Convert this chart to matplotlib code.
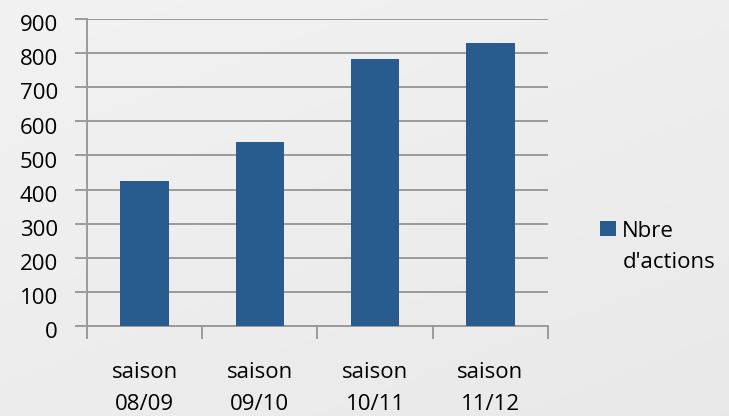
import numpy as np
import matplotlib
matplotlib.use("Agg")
import matplotlib.pyplot as plt
import matplotlib.transforms as mtransforms
from matplotlib.patches import Rectangle
from matplotlib.legend_handler import HandlerPatch

seasons = ["saison\n08/09", "saison\n09/10", "saison\n10/11", "saison\n11/12"]
actions = [426, 540, 784, 829]
series_name = "Nbre\nd'actions"

BAR_COLOR = "#285c8f"
GRID_COLOR = "#9a9a9a"
FS = 16

plt.rcParams["font.family"] = ["Open Sans", "DejaVu Sans"]

fig = plt.figure(figsize=(7.29, 4.16), dpi=100)

# soft grey background gradient
bg = fig.add_axes([0, 0, 1, 1], zorder=-10)
gy, gx = np.mgrid[0:1:100j, 0:1:100j]
grad = 0.945 - 0.035 * (0.6 * gy + 0.4 * gx)
bg.imshow(grad, cmap="gray", vmin=0, vmax=1, aspect="auto", extent=[0, 1, 0, 1])
bg.axis("off")

ax = fig.add_axes([0.1193, 0.2163, 0.6324, 0.738])
ax.patch.set_alpha(0)

x = np.arange(len(seasons))
ax.bar(x, actions, width=0.42, color=BAR_COLOR, zorder=3)

ax.set_ylim(0, 900)
ax.set_yticks(range(0, 901, 100))
ax.set_xlim(-0.5, len(seasons) - 0.5)
ax.set_xticks(x)
ax.set_xticklabels(seasons, linespacing=1.67)
ax.set_xticks(np.arange(-0.5, len(seasons), 1.0), minor=True)

ax.grid(axis="y", color=GRID_COLOR, linewidth=1.4, zorder=0)
ax.tick_params(axis="y", which="major", length=9, width=1.4, color=GRID_COLOR,
               labelsize=FS, pad=12)
ax.tick_params(axis="x", which="major", length=0, labelsize=FS, pad=26)
ax.tick_params(axis="x", which="minor", length=9, width=1.4, color=GRID_COLOR)

# y labels sit a little below their gridline in the original
shift = mtransforms.ScaledTranslation(0, -3 / 72, fig.dpi_scale_trans)
for lab in ax.get_yticklabels():
    lab.set_transform(lab.get_transform() + shift)

for side in ["top", "right"]:
    ax.spines[side].set_visible(False)
for side in ["left", "bottom"]:
    ax.spines[side].set_color(GRID_COLOR)
    ax.spines[side].set_linewidth(1.4)


def top_square(legend, orig_handle, xdescent, ydescent, width, height, fontsize):
    # put the square next to the first line of the label
    return Rectangle((-xdescent, -ydescent + 0.85 * fontsize), width, height)


proxy = Rectangle((0, 0), 1, 1, facecolor=BAR_COLOR, edgecolor="none")
leg = fig.legend([proxy], [series_name], loc="center left", bbox_to_anchor=(0.808, 0.406),
                 frameon=False, fontsize=FS, handlelength=0.7, handleheight=0.7,
                 handletextpad=0.3, borderpad=0,
                 handler_map={Rectangle: HandlerPatch(patch_func=top_square)})
for t in leg.get_texts():
    t.set_linespacing(1.6)

fig.savefig("out.png", dpi=100)
